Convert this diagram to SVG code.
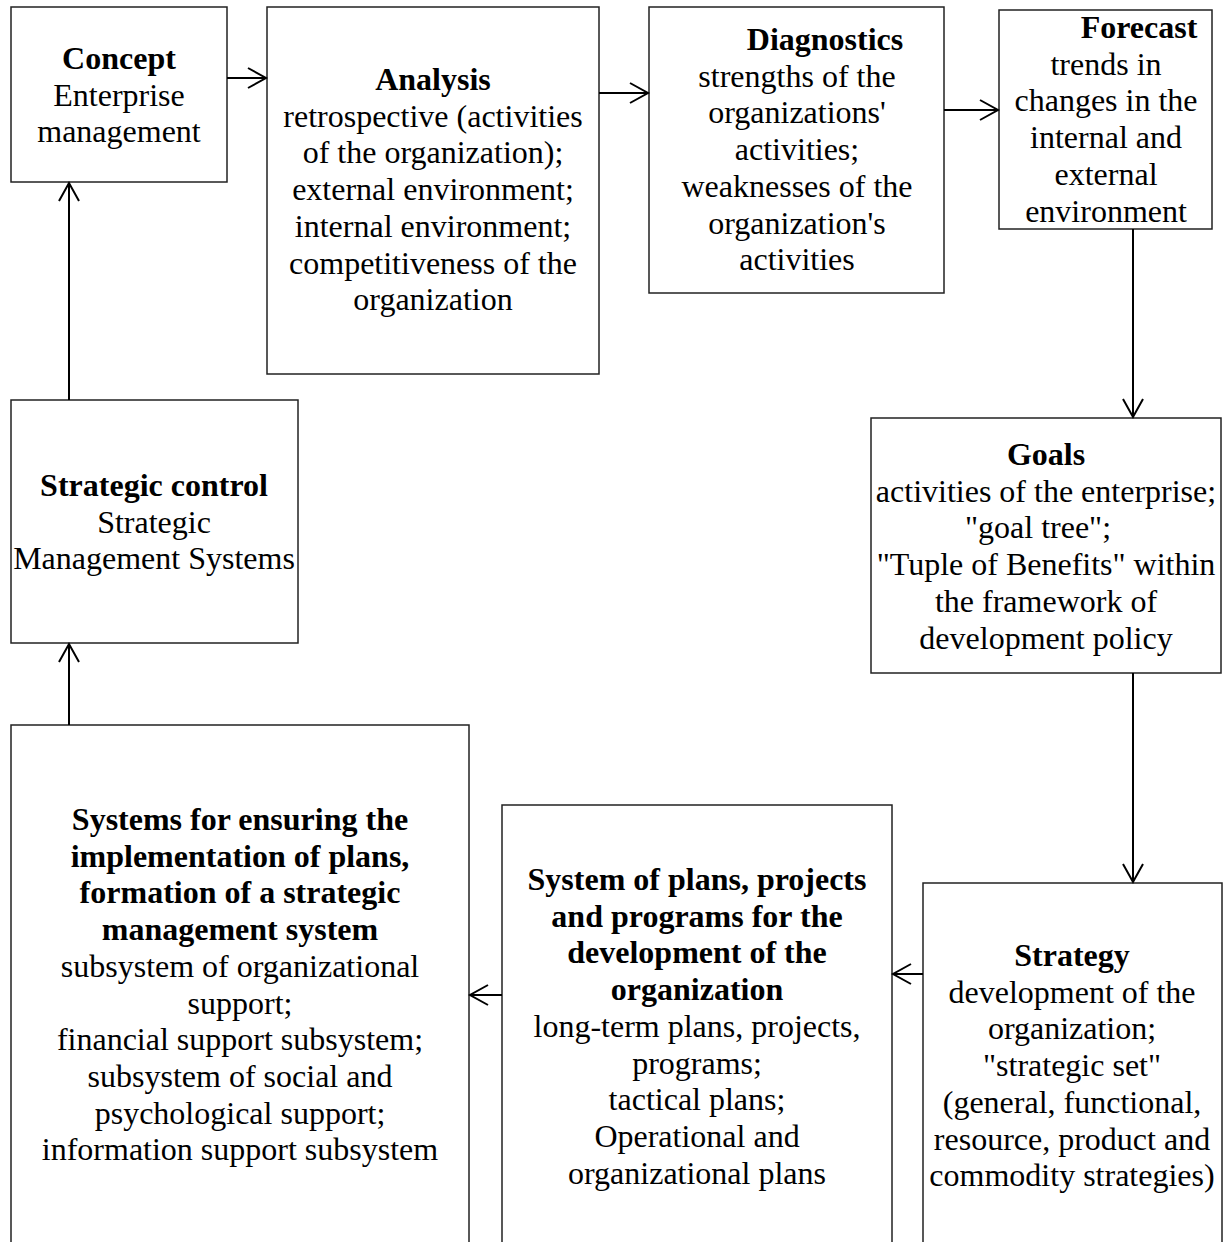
<svg xmlns="http://www.w3.org/2000/svg" width="1232" height="1242" viewBox="0 0 1232 1242">
  <style>
    .box { fill: #fff; stroke: #222; stroke-width: 1.5; }
    .t { font-family: "Liberation Serif", "Times New Roman", serif; font-size: 32px; fill: #000; text-anchor: middle; }
    .b { font-weight: bold; }
    .conn { stroke: #000; stroke-width: 2; fill: none; }
  </style>
  <defs>
    <marker id="arrow" viewBox="-22 -12 24 24" refX="0" refY="0" markerWidth="24" markerHeight="24" markerUnits="userSpaceOnUse" orient="auto" overflow="visible">
      <path d="M-18,-10 L0,0 L-18,10" fill="none" stroke="#000" stroke-width="2"/>
    </marker>
  </defs>

  <!-- nodes -->
  <g id="concept">
    <rect class="box" x="11" y="7" width="216" height="175"/>
    <text class="t b" x="119" y="69">Concept</text>
    <text class="t" x="119" y="106">Enterprise</text>
    <text class="t" x="119" y="142">management</text>
  </g>

  <g id="analysis">
    <rect class="box" x="267" y="7" width="332" height="367"/>
    <text class="t b" x="433" y="90">Analysis</text>
    <text class="t" x="433" y="126.7">retrospective (activities</text>
    <text class="t" x="433" y="163.4">of the organization);</text>
    <text class="t" x="433" y="200.1">external environment;</text>
    <text class="t" x="433" y="236.8">internal environment;</text>
    <text class="t" x="433" y="273.5">competitiveness of the</text>
    <text class="t" x="433" y="310.2">organization</text>
  </g>

  <g id="diagnostics">
    <rect class="box" x="649" y="7" width="295" height="286"/>
    <text class="t b" x="825" y="50">Diagnostics</text>
    <text class="t" x="797" y="86.7">strengths of the</text>
    <text class="t" x="797" y="123.4">organizations'</text>
    <text class="t" x="797" y="160.1">activities;</text>
    <text class="t" x="797" y="196.8">weaknesses of the</text>
    <text class="t" x="797" y="233.5">organization's</text>
    <text class="t" x="797" y="270.2">activities</text>
  </g>

  <g id="forecast">
    <rect class="box" x="999" y="10" width="213" height="219"/>
    <text class="t b" x="1139" y="38">Forecast</text>
    <text class="t" x="1106" y="74.7">trends in</text>
    <text class="t" x="1106" y="111.4">changes in the</text>
    <text class="t" x="1106" y="148.1">internal and</text>
    <text class="t" x="1106" y="184.8">external</text>
    <text class="t" x="1106" y="221.5">environment</text>
  </g>

  <g id="goals">
    <rect class="box" x="871" y="418" width="350" height="255"/>
    <text class="t b" x="1046" y="465">Goals</text>
    <text class="t" x="1046" y="501.7">activities of the enterprise;</text>
    <text class="t" x="1038" y="538.4">"goal tree";</text>
    <text class="t" x="1046" y="575.1">"Tuple of Benefits" within</text>
    <text class="t" x="1046" y="611.8">the framework of</text>
    <text class="t" x="1046" y="648.5">development policy</text>
  </g>

  <g id="strategic-control">
    <rect class="box" x="11" y="400" width="287" height="243"/>
    <text class="t b" x="154" y="496">Strategic control</text>
    <text class="t" x="154" y="532.7">Strategic</text>
    <text class="t" x="154" y="569.4">Management Systems</text>
  </g>

  <g id="strategy">
    <rect class="box" x="923" y="883" width="299" height="380"/>
    <text class="t b" x="1072" y="966">Strategy</text>
    <text class="t" x="1072" y="1002.7">development of the</text>
    <text class="t" x="1072" y="1039.4">organization;</text>
    <text class="t" x="1072" y="1076.1">"strategic set"</text>
    <text class="t" x="1072" y="1112.8">(general, functional,</text>
    <text class="t" x="1072" y="1149.5">resource, product and</text>
    <text class="t" x="1072" y="1186.2">commodity strategies)</text>
  </g>

  <g id="plans">
    <rect class="box" x="502" y="805" width="390" height="460"/>
    <text class="t b" x="697" y="890">System of plans, projects</text>
    <text class="t b" x="697" y="926.7">and programs for the</text>
    <text class="t b" x="697" y="963.4">development of the</text>
    <text class="t b" x="697" y="1000.1">organization</text>
    <text class="t" x="697" y="1036.8">long-term plans, projects,</text>
    <text class="t" x="697" y="1073.5">programs;</text>
    <text class="t" x="697" y="1110.2">tactical plans;</text>
    <text class="t" x="697" y="1146.9">Operational and</text>
    <text class="t" x="697" y="1183.6">organizational plans</text>
  </g>

  <g id="implementation-systems">
    <rect class="box" x="11" y="725" width="458" height="540"/>
    <text class="t b" x="240" y="830">Systems for ensuring the</text>
    <text class="t b" x="240" y="866.7">implementation of plans,</text>
    <text class="t b" x="240" y="903.4">formation of a strategic</text>
    <text class="t b" x="240" y="940.1">management system</text>
    <text class="t" x="240" y="976.8">subsystem of organizational</text>
    <text class="t" x="240" y="1013.5">support;</text>
    <text class="t" x="240" y="1050.2">financial support subsystem;</text>
    <text class="t" x="240" y="1086.9">subsystem of social and</text>
    <text class="t" x="240" y="1123.6">psychological support;</text>
    <text class="t" x="240" y="1160.3">information support subsystem</text>
  </g>

  <!-- connectors -->
  <g id="connectors">
    <line class="conn" x1="227" y1="78" x2="266" y2="78" marker-end="url(#arrow)"/>
    <line class="conn" x1="599" y1="93" x2="648" y2="93" marker-end="url(#arrow)"/>
    <line class="conn" x1="944" y1="110" x2="998" y2="110" marker-end="url(#arrow)"/>
    <line class="conn" x1="1133" y1="229" x2="1133" y2="417" marker-end="url(#arrow)"/>
    <line class="conn" x1="1133" y1="673" x2="1133" y2="882" marker-end="url(#arrow)"/>
    <line class="conn" x1="923" y1="974" x2="893" y2="974" marker-end="url(#arrow)"/>
    <line class="conn" x1="502" y1="995" x2="470" y2="995" marker-end="url(#arrow)"/>
    <line class="conn" x1="69" y1="725" x2="69" y2="644" marker-end="url(#arrow)"/>
    <line class="conn" x1="69" y1="400" x2="69" y2="183" marker-end="url(#arrow)"/>
  </g>
</svg>
